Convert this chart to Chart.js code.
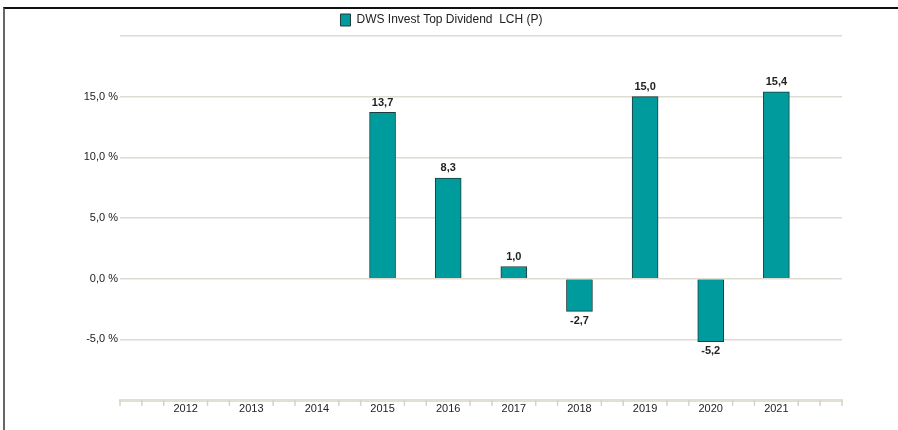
<!DOCTYPE html>
<html>
<head>
<meta charset="utf-8">
<script src="https://cdn.jsdelivr.net/npm/chart.js@4.4.1/dist/chart.umd.min.js"></script>
<style>
  html, body { margin: 0; padding: 0; background: #fff; }
  body { width: 898px; height: 430px; overflow: hidden; position: relative; }
  .frame {
    position: absolute; left: 3px; top: 7px; width: 895px; height: 423px;
    border-top: 2px solid #111; border-left: 2px solid #666; box-sizing: border-box;
  }
  .frame canvas { display: block; }
</style>
</head>
<body>
<div class="frame"><canvas id="perfChart" width="893" height="421"></canvas></div>
<script>
/* ---------- DATA ---------- */
const years = ['', '2012', '2013', '2014', '2015', '2016', '2017', '2018', '2019', '2020', '2021', ''];
const returns = [null, null, null, null, 13.7, 8.3, 1.0, -2.7, 15.0, -5.2, 15.4, null];
const yTicks = [-5, 0, 5, 10, 15];
const seriesName = 'DWS Invest Top Dividend  LCH (P)';

const teal = '#009b9d';
const gridColor = '#dedbd2';
const fmt = v => v.toFixed(1).replace('.', ',');

/* value labels above / below each bar */
const valueLabels = {
  id: 'valueLabels',
  afterDatasetsDraw(chart) {
    const { ctx } = chart;
    const meta = chart.getDatasetMeta(0);
    ctx.save();
    ctx.font = 'bold 11px "Liberation Sans", Arial, sans-serif';
    ctx.fillStyle = '#222';
    ctx.textAlign = 'center';
    meta.data.forEach((bar, i) => {
      const v = returns[i];
      if (v === null) return;
      if (v >= 0) {
        ctx.textBaseline = 'bottom';
        ctx.fillText(fmt(v), bar.x, bar.y - 4);
      } else {
        ctx.textBaseline = 'top';
        ctx.fillText(fmt(v), bar.x, bar.y + 4);
      }
    });
    ctx.restore();
  }
};

/* small tick marks under the x axis band, three per year */
const minorTicks = {
  id: 'minorTicks',
  afterDraw(chart) {
    const { ctx } = chart;
    const x = chart.scales.x;
    const steps = (years.length - 1) * 3;
    ctx.save();
    ctx.strokeStyle = '#d6d3c9';
    ctx.lineWidth = 1.5;
    for (let k = 0; k <= steps; k++) {
      if (k % 3 === 0 && k > 0 && k < steps) continue;
      const px = x.getPixelForValue(k / 3);
      ctx.beginPath();
      ctx.moveTo(px, x.top);
      ctx.lineTo(px, x.top + 6);
      ctx.stroke();
    }
    ctx.restore();
  }
};

new Chart(document.getElementById('perfChart'), {
  type: 'bar',
  data: {
    labels: years,
    datasets: [{
      label: seriesName,
      data: returns,
      backgroundColor: teal,
      borderColor: '#1e3b3b',
      borderWidth: 1,
      barThickness: 26
    }]
  },
  options: {
    responsive: false,
    animation: false,
    layout: { padding: { left: 0, right: 20, top: 0, bottom: 0 } },
    plugins: {
      legend: {
        labels: {
          boxWidth: 10,
          boxHeight: 12,
          padding: 5,
          color: '#222',
          font: { family: '"Liberation Sans", Arial, sans-serif', size: 12 }
        }
      },
      tooltip: { enabled: false }
    },
    scales: {
      x: {
        offset: false,
        grid: { display: false, drawTicks: false, tickLength: 0 },
        border: { display: true, color: '#e2dfd5', width: 3 },
        ticks: {
          autoSkip: false,
          maxRotation: 0,
          padding: 2,
          color: '#222',
          font: { family: '"Liberation Sans", Arial, sans-serif', size: 11 }
        },
        afterFit: s => { s.height = 30; }
      },
      y: {
        min: -10,
        max: 20,
        afterBuildTicks: s => { s.ticks = [-10, ...yTicks, 20].map(v => ({ value: v })); },
        grid: { color: gridColor, lineWidth: 1.5, tickLength: 0, drawTicks: false },
        border: { display: false },
        ticks: {
          padding: 2,
          color: '#222',
          font: { family: '"Liberation Sans", Arial, sans-serif', size: 11 },
          callback: v => yTicks.includes(v) ? fmt(v) + ' %' : ''
        },
        afterFit: s => { s.width = 115; }
      },
      // empty right-hand margin so the legend sits where it does in the original
      yRight: {
        position: 'right',
        min: -10,
        max: 20,
        grid: { drawOnChartArea: false, drawTicks: false },
        border: { display: false },
        ticks: { display: false },
        afterFit: s => { s.width = 36; }
      }
    }
  },
  plugins: [valueLabels, minorTicks]
});
</script>
</body>
</html>
